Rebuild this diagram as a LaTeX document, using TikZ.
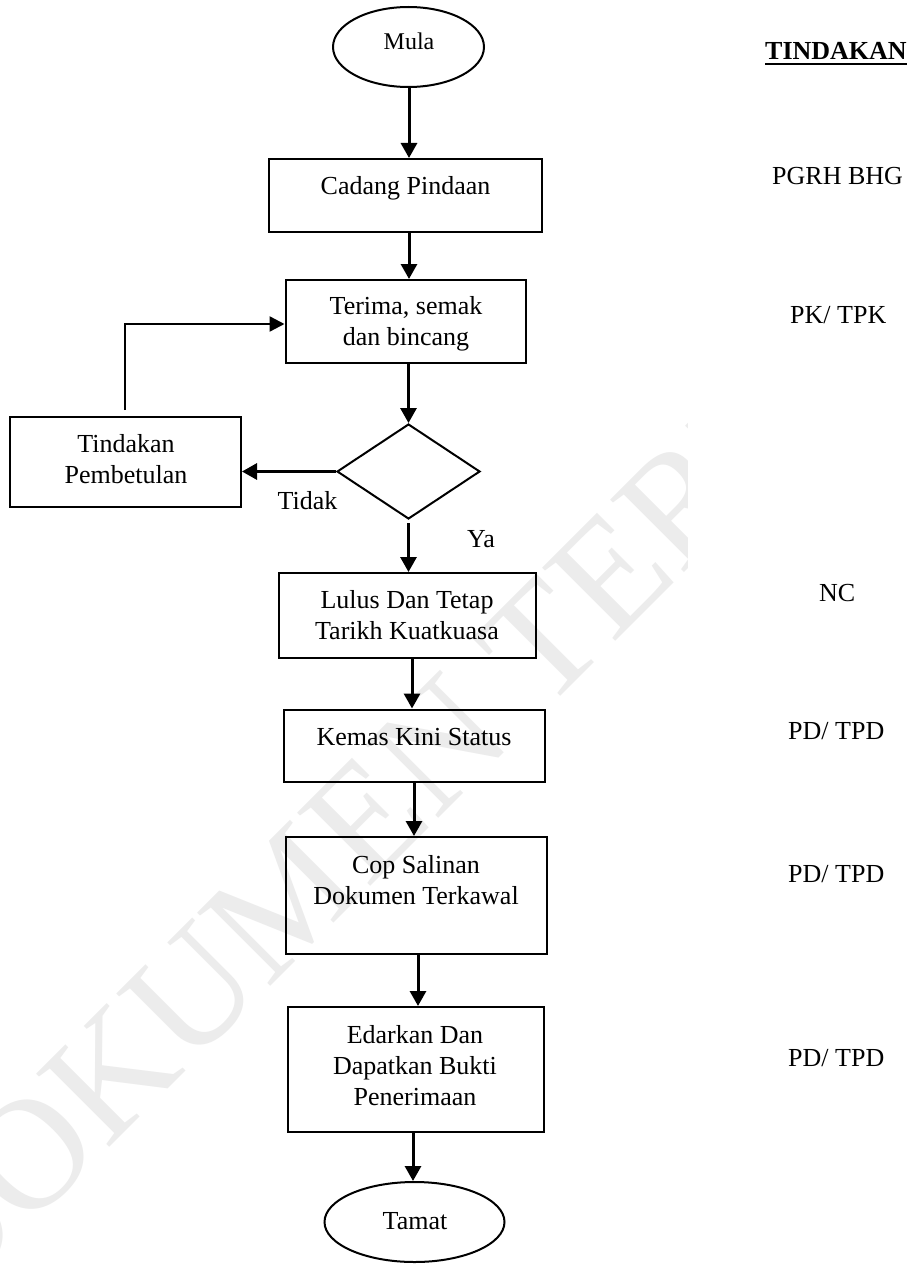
\documentclass[tikz,border=0pt]{standalone}
\usepackage{fontspec}
\setmainfont{Liberation Serif}
\usetikzlibrary{shapes.geometric,arrows.meta}
\newcommand{\fsz}{\fontsize{26}{31}\selectfont}
\definecolor{wmgray}{RGB}{236,236,236}
\begin{document}
\begin{tikzpicture}[x=1pt,y=-1pt,
  box/.style={draw, line width=2pt, rectangle, inner sep=0},
  oval/.style={draw, line width=2pt, ellipse, inner sep=0},
  decision/.style={draw, line width=2pt, diamond, inner sep=0},
  txt/.style={font=\fsz, inner sep=0, align=center, anchor=north},
  btxt/.style={font=\fsz, inner sep=0, anchor=base},
  lbl/.style={font=\fsz, inner sep=0, anchor=base west},
  arr/.style={line width=3pt, -{Triangle[length=15pt,width=16pt]}},
  arrthin/.style={line width=2.4pt, -{Triangle[length=15pt,width=15pt]}},
  wm/.style={font=\fontsize{158}{160}\selectfont, text=wmgray, rotate=45, anchor=base west, inner sep=0}]
\useasboundingbox (0,0) rectangle (912,1268);
\fill[white] (0,0) rectangle (912,1268);
% watermark
\begin{scope}
  \clip (0,0) rectangle (687,1268);
  \node[wm] (wmk) at (-55,1312) {DOKUMEN TERKAWAL};
\end{scope}
% shapes
\node[oval, minimum width=151pt, minimum height=80pt] (mula) at (408.5,47) {};
\node[font=\fontsize{24}{29}\selectfont, inner sep=0, anchor=base] (mulat) at (409,50) {Mula};
\node[box, minimum width=273pt, minimum height=73pt] (cadang) at (405.5,195.5) {};
\node[btxt] (cadangt) at (405.5,195) {Cadang Pindaan};
\node[box, minimum width=240pt, minimum height=83pt] (terima) at (405.5,321.5) {};
\node[txt] (terimat) at (406,292.3) {\strut Terima, semak\\\strut dan bincang};
\node[box, minimum width=231pt, minimum height=90pt] (tind) at (125.5,462) {};
\node[txt] (tindt) at (126,430.3) {\strut Tindakan\\\strut Pembetulan};
\node[decision, minimum width=143pt, minimum height=95pt] (dia) at (408.5,471.5) {};
\node[btxt] (tidak) at (307.5,509) {Tidak};
\node[btxt] (ya) at (481,547) {Ya};
\node[box, minimum width=257pt, minimum height=85pt] (lulus) at (407.5,615.5) {};
\node[txt] (lulust) at (407,586.3) {\strut Lulus Dan Tetap\\\strut Tarikh Kuatkuasa};
\node[box, minimum width=261pt, minimum height=72.5pt] (kemas) at (414.5,745.75) {};
\node[btxt] (kemast) at (414,745) {Kemas Kini Status};
\node[box, minimum width=261pt, minimum height=117pt] (cop) at (416.5,895.5) {};
\node[txt] (copt) at (416,851.3) {\strut Cop Salinan\\\strut Dokumen Terkawal};
\node[box, minimum width=256pt, minimum height=125pt] (edar) at (416,1069.5) {};
\node[txt] (edart) at (415,1021.3) {\strut Edarkan Dan\\\strut Dapatkan Bukti\\\strut Penerimaan};
\node[oval, minimum width=180pt, minimum height=80pt] (tamat) at (414.5,1222) {};
\node[btxt] (tamatt) at (415,1229) {Tamat};
% column coordinates
\coordinate (c1) at (409,0);
\coordinate (c2) at (412,0);
\coordinate (c3) at (414,0);
\coordinate (c4) at (418,0);
\coordinate (c5) at (413,0);
\coordinate (fb) at (125,410);
\coordinate (fbt) at (125,324);
% connectors
\draw[arr] (mula.south -| c1) -- (cadang.north -| c1);
\draw[arr] (cadang.south -| c1) -- (terima.north -| c1);
\draw[arr] (terima.south -| dia.north) -- (dia.north);
\draw[arr] (dia.west) -- (dia.west -| tind.east);
\draw[arrthin] (fb) -- (fbt) -- (fbt -| terima.west);
\draw[arr] ([yshift=-3pt]dia.south) -- (dia.south |- lulus.north);
\draw[arr] (lulus.south -| c2) -- (kemas.north -| c2);
\draw[arr] (kemas.south -| c3) -- (cop.north -| c3);
\draw[arr] (cop.south -| c4) -- (edar.north -| c4);
\draw[arr] (edar.south -| c5) -- (tamat.north -| c5);
% right column
\node[lbl, font=\fsz\bfseries] (tindakan) at (765,60) {TINDAKAN};
\draw[line width=2.5pt] ([yshift=-4pt]tindakan.base west) -- ([yshift=-4pt]tindakan.base east);
\node[lbl] (r1) at (772,185) {PGRH BHG};
\node[lbl] (r2) at (790,323) {PK/ TPK};
\node[lbl] (r3) at (819,601) {NC};
\node[lbl] (r4) at (788,739) {PD/ TPD};
\node[lbl] (r5) at (788,882) {PD/ TPD};
\node[lbl] (r6) at (788,1066) {PD/ TPD};
\end{tikzpicture}
\end{document}
